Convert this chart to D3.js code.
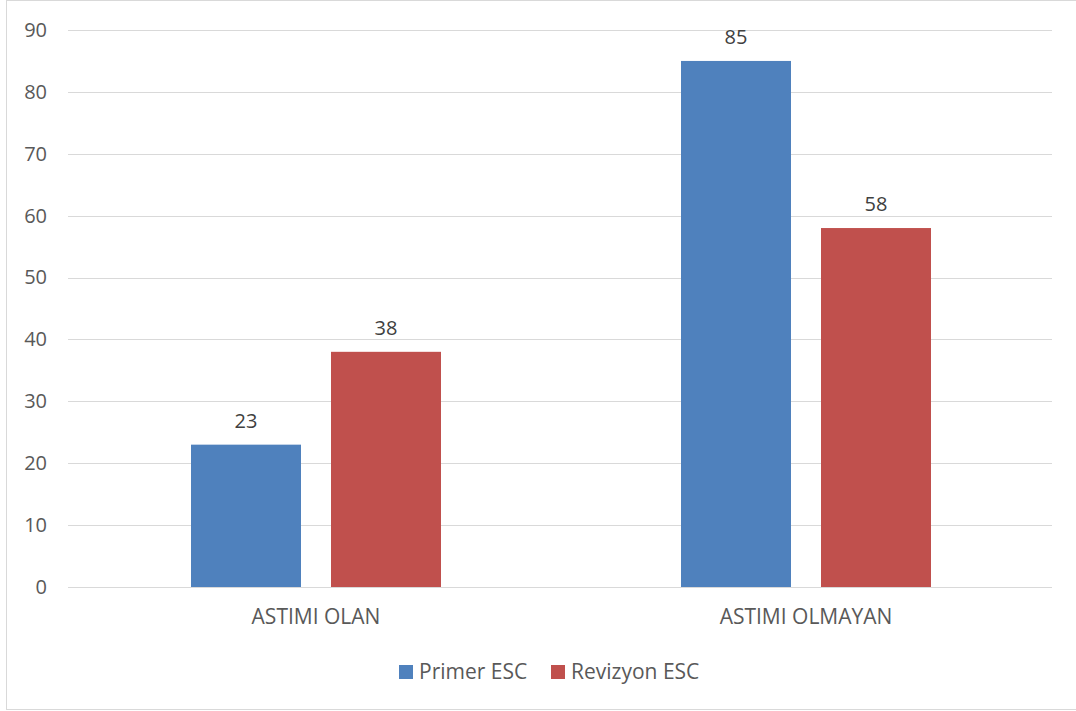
<!DOCTYPE html>
<html>
<head>
<meta charset="utf-8">
<script src="https://cdn.jsdelivr.net/npm/d3@7"></script>
<style>
  body { margin: 0; background: #fff; }
  text { font-family: "Open Sans", "Noto Sans", sans-serif; }
</style>
</head>
<body>
<svg id="chart" width="1076" height="711"></svg>
<script>
var categories = ["ASTIMI OLAN", "ASTIMI OLMAYAN"];
var seriesNames = ["Primer ESC", "Revizyon ESC"];
var primerValues = [23, 85];
var revizyonValues = [38, 58];
var yTicks = [0, 10, 20, 30, 40, 50, 60, 70, 80, 90];
var colors = ["#4f81bd", "#c0504d"];

function drawChart() {
    var svg = d3.select("#chart");

    // outer border of the chart area
    svg.append("rect")
        .attr("x", 6.5)
        .attr("y", 0.5)
        .attr("width", 1080)
        .attr("height", 709)
        .attr("fill", "none")
        .attr("stroke", "#d9d9d9")
        .attr("stroke-width", 1);

    var plotLeft = 68, plotRight = 1052, plotTop = 30, plotBottom = 587;

    var yScale = d3.scaleLinear().domain([0, 90]).range([plotBottom, plotTop]);

    // category bands, slightly inset from the gridline span
    var x0 = d3.scaleBand().domain(categories).range([plotLeft + 3, plotRight - 1]).padding(0);

    var x1 = d3.scaleBand().domain(seriesNames)
        .range([x0.bandwidth() / 2 - 125, x0.bandwidth() / 2 + 125])
        .paddingInner(30 / 140)
        .paddingOuter(0);

    // gridlines
    svg.append("g")
        .selectAll("line")
        .data(yTicks)
        .enter()
        .append("line")
        .attr("x1", plotLeft)
        .attr("x2", plotRight)
        .attr("y1", function (d) { return Math.round(yScale(d)) + 0.5; })
        .attr("y2", function (d) { return Math.round(yScale(d)) + 0.5; })
        .attr("stroke", "#d9d9d9")
        .attr("stroke-width", 1);

    // y axis labels
    var yAxis = d3.axisLeft(yScale).tickValues(yTicks).tickSize(0).tickPadding(21);
    var yG = svg.append("g")
        .attr("transform", "translate(" + plotLeft + ",0)")
        .call(yAxis);
    yG.select(".domain").remove();
    yG.selectAll("text")
        .attr("fill", "#595959")
        .style("font-size", "20px")
        .style("font-family", "'Open Sans', sans-serif");

    var table = categories.map(function (c, i) {
        return { category: c, values: [primerValues[i], revizyonValues[i]] };
    });

    var groups = svg.append("g")
        .selectAll("g")
        .data(table)
        .enter()
        .append("g")
        .attr("transform", function (d) { return "translate(" + x0(d.category) + ",0)"; });

    groups.selectAll("rect")
        .data(function (d) {
            return d.values.map(function (v, j) { return { name: seriesNames[j], value: v, idx: j }; });
        })
        .enter()
        .append("rect")
        .attr("x", function (d) { return x1(d.name); })
        .attr("y", function (d) { return yScale(d.value); })
        .attr("width", x1.bandwidth())
        .attr("height", function (d) { return yScale(0) - yScale(d.value); })
        .attr("fill", function (d) { return colors[d.idx]; });

    groups.selectAll("text.val")
        .data(function (d) {
            return d.values.map(function (v, j) { return { name: seriesNames[j], value: v }; });
        })
        .enter()
        .append("text")
        .attr("class", "val")
        .attr("x", function (d) { return x1(d.name) + x1.bandwidth() / 2; })
        .attr("y", function (d) { return yScale(d.value) - 17; })
        .attr("text-anchor", "middle")
        .attr("fill", "#404040")
        .style("font-size", "20px")
        .text(function (d) { return d.value; });

    // category labels
    var xAxis = d3.axisBottom(x0).tickSize(0).tickPadding(22);
    var xG = svg.append("g")
        .attr("transform", "translate(0," + plotBottom + ")")
        .call(xAxis);
    xG.select(".domain").remove();
    xG.selectAll("text")
        .attr("fill", "#595959")
        .style("font-size", "21px")
        .style("font-family", "'Open Sans', sans-serif");

    // legend
    var legendX = [399, 551];
    var legend = svg.append("g")
        .selectAll("g")
        .data(seriesNames)
        .enter()
        .append("g")
        .attr("transform", function (d, i) { return "translate(" + legendX[i] + ",665)"; });

    legend.append("rect")
        .attr("width", 14)
        .attr("height", 14)
        .attr("fill", function (d, i) { return colors[i]; });

    legend.append("text")
        .attr("x", 20)
        .attr("y", 14)
        .attr("fill", "#595959")
        .style("font-size", "21px")
        .text(function (d) { return d; });
}

drawChart();
</script>
</body>
</html>
